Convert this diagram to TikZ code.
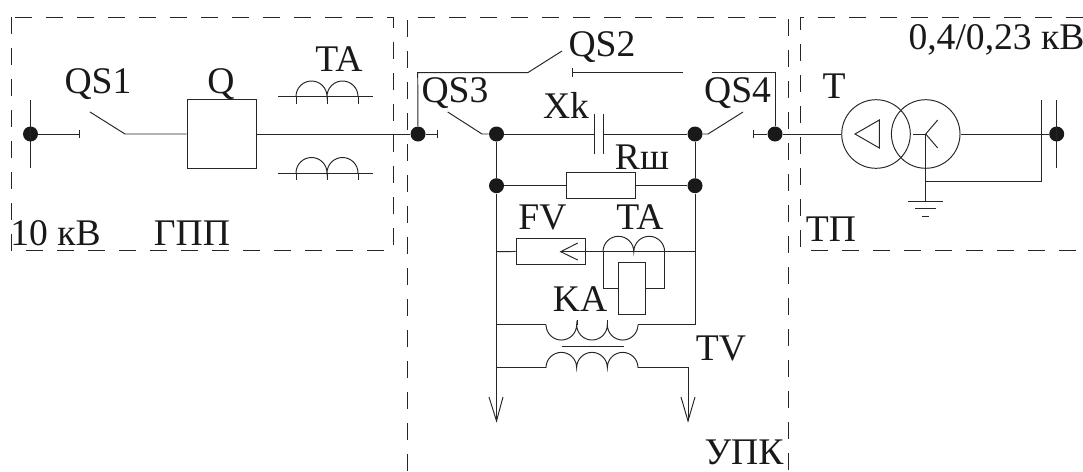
\documentclass[tikz,border=0pt]{standalone}
\usepackage{fontspec}
\setmainfont{Liberation Serif}
\tikzset{
    line/.style={line width=0.55pt, black!85},
    zone/.style={line width=0.5pt, black!85, dash pattern=on 0.34cm off 0.28cm},
    bar/.style={inner sep=0pt, minimum size=0.3cm, circle, fill=black!90},
    part/.style={draw, line width=0.55pt, black!85, inner sep=0pt, minimum height=0.52cm, minimum width=1.38cm},
    coilring/.style={draw, line width=0.55pt, black!85, circle, inner sep=0pt, minimum size=1.372cm},
    lbl/.style={anchor=base, inner sep=0pt, black!90, font=\fontsize{21.4}{24}\selectfont},
}
\begin{document}
\begin{tikzpicture}[x=0.2mm, y=-0.2mm]
    \useasboundingbox (0, 0) rectangle (1083, 471);
    % zones
    \draw [zone] (11, 17) rectangle (393, 250);
    \draw [zone] (407, 471) -- (407, 17) -- (788, 17) -- (788, 471);
    \draw [zone] (1083, 17) -- (800, 17) -- (800, 250) -- (1083, 250);
    % junctions
    \node [bar] (b1) at (30.5, 134) {};
    \node [bar] (b2) at (418, 134) {};
    \node [bar] (b3) at (496.5, 134) {};
    \node [bar] (b4) at (695, 134) {};
    \node [bar] (b5) at (775, 134) {};
    \node [bar] (b6) at (496.5, 185.7) {};
    \node [bar] (b7) at (695, 185.7) {};
    \node [bar] (b8) at (1056.7, 134) {};
    % apparatus
    \node [part, minimum height=1.38cm] (q) at (221.5, 134) {};
    \node [part] (rsh) at (601, 185.7) {};
    \node [part] (fv) at (550.5, 251) {};
    \node [part, minimum width=0.53cm, minimum height=1.04cm] (ka) at (632, 288) {};
    \node [coilring] (t1) at (876, 134) {};
    \node [coilring] (t2) at (925.7, 134) {};
    % free ends
    \coordinate (s1) at (79.5, 134);
    \coordinate (s1a) at (125, 134);
    \coordinate (s1b) at (90, 112);
    \coordinate (s3) at (437, 134);
    \coordinate (s3a) at (482, 134);
    \coordinate (s3b) at (447.7, 112);
    \coordinate (s4) at (753, 134);
    \coordinate (s4a) at (708, 134);
    \coordinate (s4b) at (743, 112);
    \coordinate (s2a) at (417.7, 72.7);
    \coordinate (s2b) at (527.7, 72.7);
    \coordinate (s2c) at (562, 51);
    \coordinate (s2d) at (572.7, 72.7);
    \coordinate (s2e) at (682.7, 72.7);
    \coordinate (s2f) at (712, 72.7);
    \coordinate (s2g) at (775, 72.7);
    \coordinate (c1) at (594, 134);
    \coordinate (c2) at (603, 134);
    \coordinate (n1) at (925.7, 181);
    \coordinate (n2) at (1041.7, 181);
    \coordinate (n3) at (1041.7, 100);
    \coordinate (g) at (925.7, 201);
    \coordinate (out1) at (496.5, 421);
    \coordinate (out2) at (688, 421);
    \coordinate (f1) at (560.7, 251.7);
    \coordinate (f2) at (695, 251.7);
    \coordinate (f3) at (496.5, 251.7);
    \coordinate (k1) at (496.5, 324.7);
    \coordinate (k2) at (546, 324.7);
    \coordinate (k3) at (638, 324.7);
    \coordinate (k4) at (695, 324.7);
    \coordinate (v1) at (496.5, 367.7);
    \coordinate (v2) at (546, 367.7);
    \coordinate (v3) at (638, 367.7);
    \coordinate (v4) at (688, 367.7);
    % main line
    \draw [line] (30.5, 100) -- (30.5, 168);
    \draw [line] (b1) -- (s1);
    \draw [line] (79.5, 130) -- (79.5, 138);
    \draw [line] (s1b) -- (s1a) -- (q);
    \draw [line] (q) -- (b2);
    \draw [line] (b2) -- (s3);
    \draw [line] (437, 130) -- (437, 138);
    \draw [line] (s3b) -- (s3a) -- (b3);
    \draw [line] (b3) -- (c1);
    \draw [line] (c2) -- (b4);
    \draw [line] (594, 114) -- (594, 154);
    \draw [line] (603, 114) -- (603, 154);
    \draw [line] (b4) -- (s4a) -- (s4b);
    \draw [line] (s4) -- (b5);
    \draw [line] (753, 130) -- (753, 138);
    \draw [line] (b5) -- (t1);
    % bypass
    \draw [line] (b2) -- (s2a) -- (s2b) -- (s2c);
    \draw [line] (s2d) -- (s2e);
    \draw [line] (572.7, 68) -- (572.7, 77);
    \draw [line] (s2f) -- (s2g) -- (b5);
    % shunt branches
    \draw [line] (b3) -- (b6);
    \draw [line] (b6) -- (out1);
    \draw [line] (b4) -- (b7);
    \draw [line] (b7) -- (k4) -- (k3);
    \draw [line] (b6) -- (rsh);
    \draw [line] (rsh) -- (b7);
    \draw [line] (f3) -- (fv);
    \draw [line] (f1) -- (f2);
    \draw [line] (577.7, 243) -- (f1) -- (577.7, 260);
    % TA in the branch, relay
    \draw [line] (603, 251.7) arc [start angle=180, end angle=360, radius=15.4] arc [start angle=180, end angle=360, radius=15.4];
    \draw [line] (603, 251.7) -- (603, 288) -- (ka.west |- 0, 288);
    \draw [line] (664.5, 251.7) -- (664.5, 288) -- (ka.east |- 0, 288);
    % TV
    \draw [line] (k1) -- (k2);
    \draw [line] (k2) arc [start angle=180, end angle=0, radius=15.33] arc [start angle=180, end angle=0, radius=15.33] arc [start angle=180, end angle=0, radius=15.33];
    \draw [line] (577, 320) -- (577, 325);
    \draw [line] (607.5, 320) -- (607.5, 325);
    \draw [line] (561.7, 346.7) -- (624, 346.7);
    \draw [line] (v1) -- (v2);
    \draw [line] (v2) arc [start angle=180, end angle=360, radius=15.33] arc [start angle=180, end angle=360, radius=15.33] arc [start angle=180, end angle=360, radius=15.33];
    \draw [line] (v3) -- (v4) -- (out2);
    \draw [line] (489, 397) -- (out1) -- (503, 397);
    \draw [line] (681, 397) -- (out2) -- (695, 397);
    % TA on the feeder
    \draw [line] (278, 96.5) -- (373, 96.5);
    \draw [line] (296, 96.5) arc [start angle=180, end angle=360, radius=15.5] arc [start angle=180, end angle=360, radius=15.5];
    \draw [line] (296, 96.5) -- (296, 104);
    \draw [line] (327, 96.5) -- (327, 104);
    \draw [line] (358, 96.5) -- (358, 104);
    \draw [line] (278, 173) -- (373, 173);
    \draw [line] (296, 173) arc [start angle=180, end angle=360, radius=15.5] arc [start angle=180, end angle=360, radius=15.5];
    \draw [line] (296, 173) -- (296, 180);
    \draw [line] (327, 173) -- (327, 180);
    \draw [line] (358, 173) -- (358, 180);
    % transformer
    \draw [line] (855, 134) -- (879.3, 120) -- (879.3, 148) -- cycle;
    \draw [line] (913, 134) -- (925.7, 134);
    \draw [line] (937.7, 120) -- (925.7, 134) -- (937.7, 148);
    \draw [line] (925.7, 134) -- (g);
    \draw [line] (n1) -- (n2) -- (n3);
    \draw [line] (t2) -- (b8);
    \draw [line] (1056.7, 100) -- (1056.7, 168);
    \draw [line] (908.3, 201) -- (943, 201);
    \draw [line] (915, 208) -- (936, 208);
    \draw [line] (922, 216) -- (929, 216);
    % labels
    \node [lbl] (lqs1) at (98, 93) {QS1};
    \node [lbl] (lq) at (221, 93) {Q};
    \node [lbl] (lta1) at (339, 71.5) {TA};
    \node [lbl] (lten) at (55.5, 245) {10 кВ};
    \node [lbl] (lgpp) at (192, 245) {ГПП};
    \node [lbl] (lqs2) at (602, 56) {QS2};
    \node [lbl] (lqs3) at (455, 102) {QS3};
    \node [lbl] (lqs4) at (737.6, 102) {QS4};
    \node [lbl] (lxk) at (566, 118) {Xk};
    \node [lbl] (lrsh) at (642, 169) {Rш};
    \node [lbl] (lfv) at (542.5, 229) {FV};
    \node [lbl] (lta2) at (640, 229) {TA};
    \node [lbl] (lka) at (580, 311.7) {KA};
    \node [lbl] (ltv) at (721, 360) {TV};
    \node [lbl] (lupk) at (744, 464) {УПК};
    \node [lbl] (lt) at (834, 98) {T};
    \node [lbl] (lkv) at (996.5, 49) {0,4/0,23 кВ};
    \node [lbl] (ltp) at (831, 241.7) {ТП};
\end{tikzpicture}
\end{document}
